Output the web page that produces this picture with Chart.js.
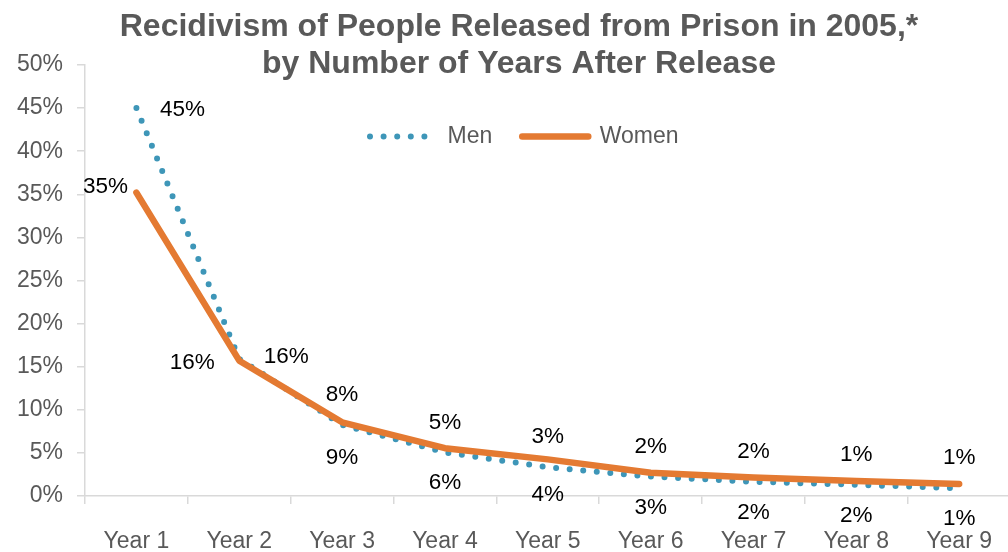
<!DOCTYPE html>
<html>
<head>
<meta charset="utf-8">
<script src="https://cdn.jsdelivr.net/npm/chart.js@4/dist/chart.umd.min.js"></script>
<style>
  html, body { margin: 0; padding: 0; background: #ffffff; overflow: hidden; }
  #wrap { width: 1008px; height: 552px; overflow: hidden; }
  canvas { display: block; }
</style>
</head>
<body>
<div id="wrap"><canvas id="chart" width="1016" height="552"></canvas></div>
<script>
// Share of released people rearrested, by year after release (percent)
const years = ['Year 1', 'Year 2', 'Year 3', 'Year 4', 'Year 5', 'Year 6', 'Year 7', 'Year 8', 'Year 9'];
const men   = [45.0, 15.9, 8.25, 5.05, 3.35, 2.25, 1.65, 1.3, 0.9];
const women = [35.2, 15.7, 8.55, 5.55, 4.25, 2.7, 2.15, 1.75, 1.4];
const titleLines = ['Recidivism of People Released from Prison in 2005,*', 'by Number of Years After Release'];

const FONT = "'Liberation Sans', Arial, Helvetica, sans-serif";
const GREY = '#595959';
const AXIS = '#D9D9D9';
const TEAL = '#3E96B8';
const ORANGE = '#E47A32';

// where each value label sits relative to its point
const menLabelOffsets = [[46, 2], [47, -2], [0, -30], [0, -30], [0, -30], [0, -30], [0, -30], [0, -30], [0, -30]];
const womenLabelOffsets = [[-31, -6], [-47, 2], [0, 35], [0, 35], [0, 35], [0, 35], [0, 35], [0, 35], [0, 35]];

const valueLabels = {
  id: 'valueLabels',
  afterDatasetsDraw(chart) {
    const ctx = chart.ctx;
    ctx.save();
    ctx.font = '22.5px ' + FONT;
    ctx.fillStyle = '#000000';
    ctx.textAlign = 'center';
    ctx.textBaseline = 'middle';
    chart.data.datasets.forEach((ds, di) => {
      const meta = chart.getDatasetMeta(di);
      const offs = ds.labelOffsets;
      meta.data.forEach((pt, i) => {
        const [dx, dy] = offs[i];
        ctx.fillText(Math.round(ds.data[i]) + '%', pt.x + dx, pt.y + dy);
      });
    });
    ctx.restore();
  }
};

// title centred a little right of the canvas middle; legend tucked inside the plot
const boxPlacement = {
  id: 'boxPlacement',
  afterLayout(chart) {
    const tb = chart.titleBlock;
    if (tb) { tb.left += 22; tb.width -= 22; }
    const lg = chart.legend;
    if (lg && lg.lineWidths) {
      const pad = lg.options.labels.padding;
      const startX = (lg.left + pad + lg.right - lg.lineWidths[0]) / 2;
      const shift = 370 - startX;
      lg.left += shift;
      lg.right += shift;
      lg.top += 31;
      lg.height = 64;
      lg.bottom = lg.top + lg.height;
    }
  }
};

new Chart(document.getElementById('chart'), {
  type: 'line',
  data: {
    labels: years,
    datasets: [
      {
        label: 'Men',
        data: men,
        borderColor: TEAL,
        backgroundColor: TEAL,
        borderWidth: 6,
        borderDash: [0, 13.6],
        borderCapStyle: 'round',
        borderJoinStyle: 'round',
        pointRadius: 0,
        tension: 0,
        order: 1,
        labelOffsets: menLabelOffsets
      },
      {
        label: 'Women',
        data: women,
        borderColor: ORANGE,
        backgroundColor: ORANGE,
        borderWidth: 6.5,
        borderCapStyle: 'round',
        borderJoinStyle: 'round',
        pointRadius: 0,
        tension: 0,
        order: 0,
        labelOffsets: womenLabelOffsets
      }
    ]
  },
  options: {
    responsive: false,
    animation: false,
    devicePixelRatio: 1,
    layout: { padding: 0 },
    plugins: {
      tooltip: { enabled: false },
      title: {
        display: true,
        text: titleLines,
        color: GREY,
        font: { family: FONT, size: 32, weight: 'bold', lineHeight: 1.15 },
        padding: { top: 9, bottom: -18.6 }
      },
      legend: {
        position: 'top',
        align: 'center',
        maxHeight: 1,
        labels: {
          usePointStyle: true,
          pointStyle: 'line',
          pointStyleWidth: 66,
          padding: 30,
          color: GREY,
          font: { family: FONT, size: 23 },
          sort: (a, b) => a.datasetIndex - b.datasetIndex,
          generateLabels(chart) {
            const items = Chart.defaults.plugins.legend.labels.generateLabels(chart);
            items.forEach(it => {
              const ds = chart.data.datasets[it.datasetIndex];
              it.lineDash = ds.borderDash || [];
              it.lineCap = ds.borderCapStyle;
              it.lineWidth = ds.borderWidth;
              it.strokeStyle = ds.borderColor;
              it.fillStyle = ds.borderColor;
            });
            return items;
          }
        }
      }
    },
    scales: {
      x: {
        type: 'category',
        offset: true,
        afterFit(scale) { scale.height = 56; },
        grid: { offset: true, drawOnChartArea: false, drawTicks: true, tickLength: 8, color: AXIS, lineWidth: 1.5 },
        border: { display: true, color: AXIS, width: 1.5 },
        ticks: { color: GREY, font: { family: FONT, size: 23 }, padding: 24, maxRotation: 0, autoSkip: false }
      },
      y: {
        min: 0,
        max: 50,
        afterFit(scale) { scale.width = 85; },
        grid: { drawOnChartArea: false, drawTicks: true, tickLength: 8, color: AXIS, lineWidth: 1.5 },
        border: { display: true, color: AXIS, width: 1.5 },
        ticks: { stepSize: 5, color: GREY, padding: 14, font: { family: FONT, size: 23 }, callback: v => v + '%' }
      }
    }
  },
  plugins: [valueLabels, boxPlacement]
});
</script>
</body>
</html>
